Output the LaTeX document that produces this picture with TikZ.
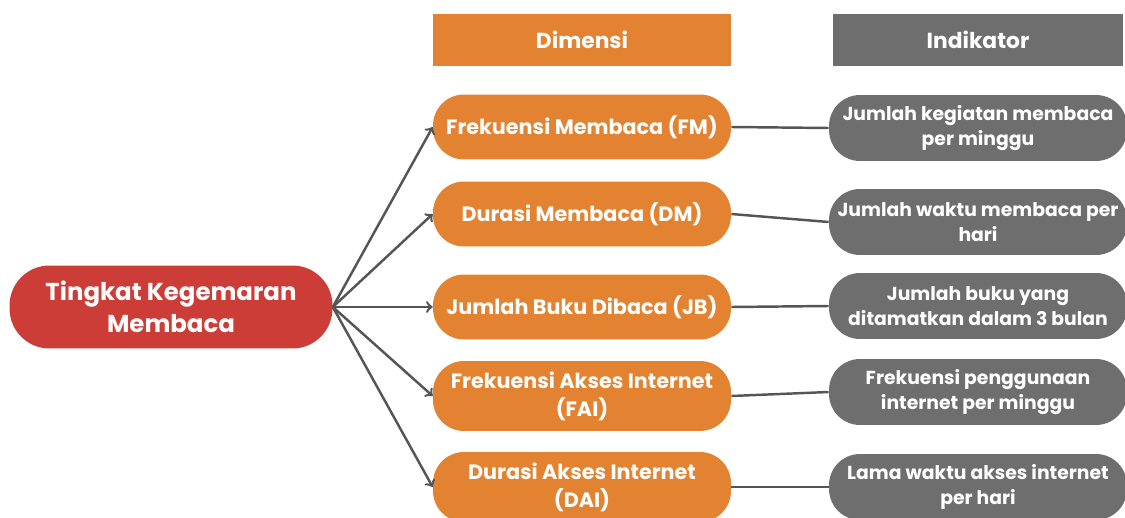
\documentclass[tikz,border=0pt]{standalone}
\usepackage{fontspec}
\setmainfont{Poppins}
\definecolor{rootred}{HTML}{CC3D37}
\definecolor{dimorange}{HTML}{E38331}
\definecolor{indgray}{HTML}{6E6E6E}
\definecolor{linegray}{HTML}{555555}
\begin{document}
\begin{tikzpicture}[x=0.02cm, y=-0.02cm,
root/.style = {rectangle, rounded corners=0.8cm, fill=rootred, text=white, align=center,
  minimum width=6.46cm, minimum height=1.66cm, inner sep=0pt,
  font=\fontsize{13.9}{18}\selectfont\bfseries},
head/.style = {rectangle, text=white, minimum height=1.06cm, inner sep=0pt,
  font=\fontsize{12.4}{14}\selectfont\bfseries},
dim/.style = {rectangle, rounded corners=0.62cm, fill=dimorange, text=white, align=center,
  minimum width=5.96cm, minimum height=1.3cm, inner sep=0pt,
  font=\fontsize{11.8}{16}\selectfont\bfseries},
ind/.style = {rectangle, rounded corners=0.62cm, fill=indgray, text=white, align=center,
  minimum width=5.96cm, minimum height=1.32cm, inner sep=0pt,
  font=\fontsize{10.7}{14}\selectfont\bfseries}]
\clip (0,0) rectangle (1125,517);
\node[root] at (171,307) (tkm) {Tingkat Kegemaran\\Membaca};
\node[head, fill=dimorange, minimum width=5.96cm] at (582,40) (hdim) {Dimensi};
\node[head, fill=indgray, minimum width=5.8cm] at (978,40) (hind) {Indikator};
% dimensi
\node[dim] at (582,127) (fm) {Frekuensi Membaca (FM)};
\node[dim] at (582,214) (dm) {Durasi Membaca (DM)};
\node[dim] at (582,307) (jb) {Jumlah Buku Dibaca (JB)};
\node[dim, minimum height=1.4cm] at (582,396) (fai) {Frekuensi Akses Internet\\(FAI)};
\node[dim, minimum height=1.4cm] at (582,487) (dai) {Durasi Akses Internet\\(DAI)};
% indikator
\node[ind] at (978,128) (ifm) {Jumlah kegiatan membaca\\per minggu};
\node[ind] at (978,222) (idm) {Jumlah waktu membaca per\\hari};
\node[ind] at (978,306) (ijb) {Jumlah buku yang\\ditamatkan dalam 3 bulan};
\node[ind] at (978,392) (ifai) {Frekuensi penggunaan\\internet per minggu};
\node[ind] at (978,487) (idai) {Lama waktu akses internet\\per hari};
% panah
\draw [->, linegray] (tkm.east) [line width=1.4] -- (fm.west);
\draw [->, linegray] (tkm.east) [line width=1.4] -- (dm.west);
\draw [->, linegray] (tkm.east) [line width=1.4] -- (jb.west);
\draw [->, linegray] (tkm.east) [line width=1.4] -- (fai.west);
\draw [->, linegray] (tkm.east) [line width=1.4] -- (dai.west);
\draw [linegray] (fm.east) [line width=1.4] -- (ifm.west);
\draw [linegray] (dm.east) [line width=1.4] -- (idm.west);
\draw [linegray] (jb.east) [line width=1.4] -- (ijb.west);
\draw [linegray] (fai.east) [line width=1.4] -- (ifai.west);
\draw [linegray] (dai.east) [line width=1.4] -- (idai.west);
\end{tikzpicture}
\end{document}
